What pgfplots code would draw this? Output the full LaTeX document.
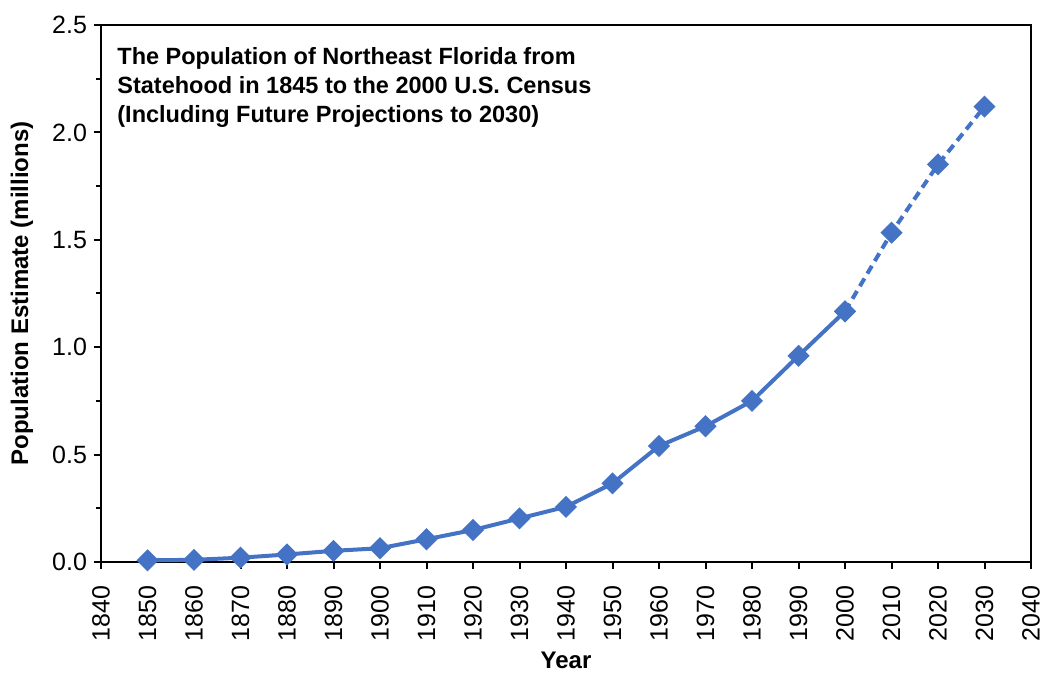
\documentclass[border=0pt]{standalone}
\usepackage{fontspec}
\setmainfont{Liberation Sans}
\usepackage{pgfplots}
\pgfplotsset{compat=1.18}
\definecolor{lineblue}{RGB}{68,114,196}
\begin{document}
\begin{tikzpicture}
\begin{axis}[
  scale only axis, width=465pt, height=268.5pt,
  xmin=1840, xmax=2040, ymin=0, ymax=2.5,
  xtick={1840,1850,...,2040},
  ytick={0,0.5,1,1.5,2,2.5},
  minor ytick={0.25,0.75,1.25,1.75,2.25},
  tick pos=left, tick align=outside,
  major tick length=3.5pt, minor tick length=2.5pt,
  axis line style={line width=1pt},
  every tick/.style={black, line width=1pt},
  /pgf/number format/assume math mode=true,
  xticklabel shift=5pt,
  xticklabel style={rotate=90, anchor=east, font=\fontsize{12.5}{14}\selectfont, /pgf/number format/1000 sep={}},
  yticklabel style={font=\fontsize{12.5}{14}\selectfont, /pgf/number format/.cd, fixed, fixed zerofill, precision=1},
  xlabel={Year}, ylabel={Population Estimate (millions)},
  every axis x label/.style={at={(axis description cs:0.5,-0.1825)}, anchor=center, font=\bfseries\fontsize{12}{14}\selectfont},
  every axis y label/.style={at={(axis description cs:-0.085,0.5)}, rotate=90, anchor=center, font=\bfseries\fontsize{12}{14}\selectfont},
  clip=false,
]
\addplot[color=lineblue, line width=2pt, mark=square*, mark size=2.9pt, mark options={rotate=45, solid, fill=lineblue}]
coordinates {(1850,0.008)(1860,0.010)(1870,0.020)(1880,0.035)(1890,0.052)(1900,0.064)(1910,0.106)(1920,0.149)(1930,0.203)(1940,0.257)(1950,0.366)(1960,0.540)(1970,0.632)(1980,0.750)(1990,0.960)(2000,1.167)};
\addplot[color=lineblue, line width=2pt, dash pattern=on 4.5pt off 2.8pt, mark=square*, mark size=2.9pt, mark options={rotate=45, solid, fill=lineblue}]
coordinates {(2000,1.167)(2010,1.533)(2020,1.851)(2030,2.120)};
\node[anchor=north west, inner sep=0pt, align=left, font=\bfseries\fontsize{11.75}{14.5}\selectfont] at (axis description cs:0.0172,0.959)
{The Population of Northeast Florida from\\Statehood in 1845 to the 2000 U.S. Census\\(Including Future Projections to 2030)};
\end{axis}
\pgfresetboundingbox
\path (-50.5pt,-55.5pt) rectangle (470.5pt,281pt);
\end{tikzpicture}
\end{document}
